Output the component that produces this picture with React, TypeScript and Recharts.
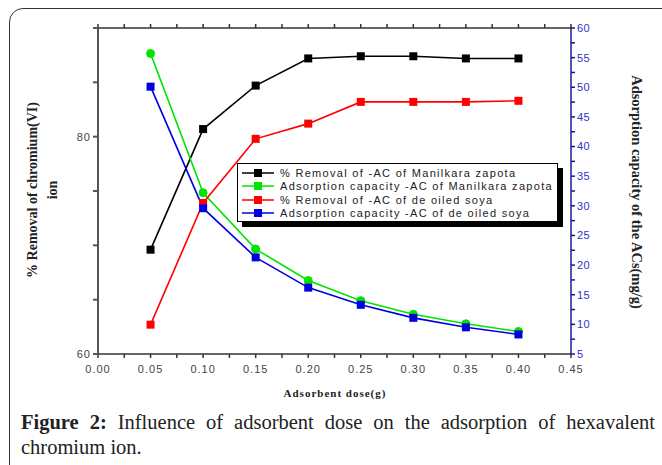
import { Line, LineChart, XAxis, YAxis } from "recharts";

const doses = [0.05, 0.1, 0.15, 0.2, 0.25, 0.3, 0.35, 0.4];
const removalManilkara = [69.6, 80.7, 84.7, 87.2, 87.4, 87.4, 87.2, 87.2];
const capacityManilkara = [55.7, 32.2, 22.7, 17.4, 14.0, 11.7, 10.1, 8.8];
const removalSoya = [62.7, 73.9, 79.8, 81.2, 83.2, 83.2, 83.2, 83.3];
const capacitySoya = [50.1, 29.6, 21.3, 16.2, 13.3, 11.1, 9.5, 8.3];

const xTicks = [0, 0.025, 0.05, 0.075, 0.1, 0.125, 0.15, 0.175, 0.2, 0.225, 0.25, 0.275, 0.3, 0.325, 0.35, 0.375, 0.4, 0.425, 0.45];
const leftTicks = [60, 65, 70, 75, 80, 85, 90];
const leftLabels = [60, 80];
const rightTicks = [5, 7.5, 10, 12.5, 15, 17.5, 20, 22.5, 25, 27.5, 30, 32.5, 35, 37.5, 40, 42.5, 45, 47.5, 50, 52.5, 55, 57.5, 60];

const rows = doses.map((d, i) => ({
  dose: d,
  rm: removalManilkara[i],
  cm: capacityManilkara[i],
  rs: removalSoya[i],
  cs: capacitySoya[i],
}));

const series = [
  { key: "rm", axis: "left", color: "#000000", name: "%  Removal of -AC of Manilkara zapota", shape: "square" },
  { key: "cm", axis: "right", color: "#00e400", name: "Adsorption capacity -AC of Manilkara zapota", shape: "circle" },
  { key: "rs", axis: "left", color: "#ff0000", name: "%  Removal of -AC of de oiled soya", shape: "square" },
  { key: "cs", axis: "right", color: "#0000e0", name: "Adsorption capacity -AC of de oiled soya", shape: "square" },
];

const sans = "'Liberation Sans', Arial, sans-serif";
const serif = "'Liberation Serif', 'DejaVu Serif', serif";

function makeDot(color: string, shape: string) {
  return (p: any) => {
    if (p.cx == null || p.cy == null) return <g key={p.index} />;
    if (shape === "circle")
      return <circle key={p.index} cx={p.cx} cy={p.cy} r={4} fill={color} stroke={color} />;
    return <rect key={p.index} x={p.cx - 4} y={p.cy - 4} width={8} height={8} fill={color} />;
  };
}

// legend drawn as a plain box, like the boxed legend of the original plot
function LegendBox() {
  return (
    <div style={{ position: "absolute", left: 237, top: 163, width: 326, height: 64 }}>
      <div style={{ position: "absolute", left: 5, top: 5, width: 321, height: 59, background: "#000" }} />
      <div
        style={{
          position: "absolute",
          left: 0,
          top: 0,
          width: 321,
          height: 59,
          background: "#fff",
          border: "1px solid #000",
          padding: "2px 0 0 4px",
          boxSizing: "border-box",
        }}
      >
        {series.map((s) => (
          <div key={s.key} style={{ display: "flex", alignItems: "center", height: 13.5 }}>
            <svg width={32} height={10} style={{ marginRight: 6 }}>
              <line x1={0} y1={5} x2={32} y2={5} stroke={s.color} strokeWidth={1.5} />
              <rect x={12} y={1} width={8} height={8} fill={s.color} />
            </svg>
            <span style={{ fontFamily: sans, fontSize: 11, color: "#222", letterSpacing: 1.3, whiteSpace: "nowrap" }}>
              {s.name}
            </span>
          </div>
        ))}
      </div>
    </div>
  );
}

export default function App() {
  return (
    <div style={{ position: "absolute", left: 0, top: 0, width: 662, height: 465, background: "#fff", overflow: "hidden" }}>
      <div
        style={{
          position: "absolute",
          left: 9,
          top: 8,
          width: 670,
          height: 480,
          border: "1px solid #333",
          borderRadius: 14,
        }}
      />
      <LineChart width={662} height={400} data={rows} margin={{ top: 8, right: 0, left: 0, bottom: 0 }}>
        <XAxis
          dataKey="dose"
          type="number"
          xAxisId="bottom"
          domain={[0, 0.45]}
          ticks={xTicks}
          interval={0}
          height={46}
          tickSize={4}
          tickFormatter={(v: number) => (Math.round(v * 1000) % 50 === 0 ? v.toFixed(2) : "")}
          tick={{ fontFamily: sans, fontSize: 11, fill: "#444", letterSpacing: 1, dy: 5 }}
          stroke="#333"
          strokeWidth={1.5}
        />
        <XAxis
          dataKey="dose"
          type="number"
          xAxisId="top"
          orientation="top"
          domain={[0, 0.45]}
          ticks={xTicks}
          interval={0}
          height={20}
          tickSize={4}
          tickFormatter={() => ""}
          stroke="#333"
          strokeWidth={1.5}
        />
        <YAxis
          yAxisId="left"
          domain={[60, 90]}
          ticks={leftTicks}
          interval={0}
          width={98}
          tickSize={5}
          tickFormatter={(v: number) => (leftLabels.includes(v) ? String(v) : "")}
          tick={{ fontFamily: sans, fontSize: 11, fill: "#444", letterSpacing: 1 }}
          stroke="#555"
          strokeWidth={2}
        />
        <YAxis
          yAxisId="right"
          orientation="right"
          domain={[5, 60]}
          ticks={rightTicks}
          interval={0}
          width={91}
          tickSize={4}
          tickFormatter={(v: number) => (v % 5 === 0 ? String(v) : "")}
          tick={{ fontFamily: sans, fontSize: 11, fill: "#3030d0", letterSpacing: 0.5 }}
          stroke="#1a1a90"
          strokeWidth={1.5}
        />
        {series.map((s) => (
          <Line
            key={s.key}
            dataKey={s.key}
            name={s.name}
            xAxisId="bottom"
            yAxisId={s.axis}
            type="linear"
            stroke={s.color}
            strokeWidth={1.6}
            dot={makeDot(s.color, s.shape)}
            isAnimationActive={false}
          />
        ))}
      </LineChart>
      <LegendBox />
      <div
        style={{
          position: "absolute",
          left: 43,
          top: 190,
          transform: "translate(-50%, -50%) rotate(-90deg)",
          fontFamily: serif,
          fontWeight: "bold",
          fontSize: 14,
          color: "#222",
          textAlign: "center",
          whiteSpace: "nowrap",
          lineHeight: "20px",
        }}
      >
        % Removal of chromium(VI)
        <br />
        ion
      </div>
      <div
        style={{
          position: "absolute",
          left: 636,
          top: 192,
          transform: "translate(-50%, -50%) rotate(90deg)",
          fontFamily: serif,
          fontWeight: "bold",
          fontSize: 14.5,
          color: "#222",
          whiteSpace: "nowrap",
        }}
      >
        Adsorption capacity of the ACs(mg/g)
      </div>
      <div
        style={{
          position: "absolute",
          left: 335,
          top: 393,
          transform: "translate(-50%, -50%)",
          fontFamily: serif,
          fontWeight: "bold",
          fontSize: 11,
          letterSpacing: 1,
          color: "#222",
          whiteSpace: "nowrap",
        }}
      >
        Adsorbent dose(g)
      </div>
      <div
        style={{
          position: "absolute",
          left: 21,
          top: 410,
          width: 634,
          fontFamily: serif,
          fontSize: 20.5,
          lineHeight: "25px",
          color: "#222",
        }}
      >
        <div style={{ textAlign: "justify", textAlignLast: "justify", whiteSpace: "nowrap" }}>
          <b>Figure 2:</b> Influence of adsorbent dose on the adsorption of hexavalent
        </div>
        <div>chromium ion.</div>
      </div>
    </div>
  );
}
